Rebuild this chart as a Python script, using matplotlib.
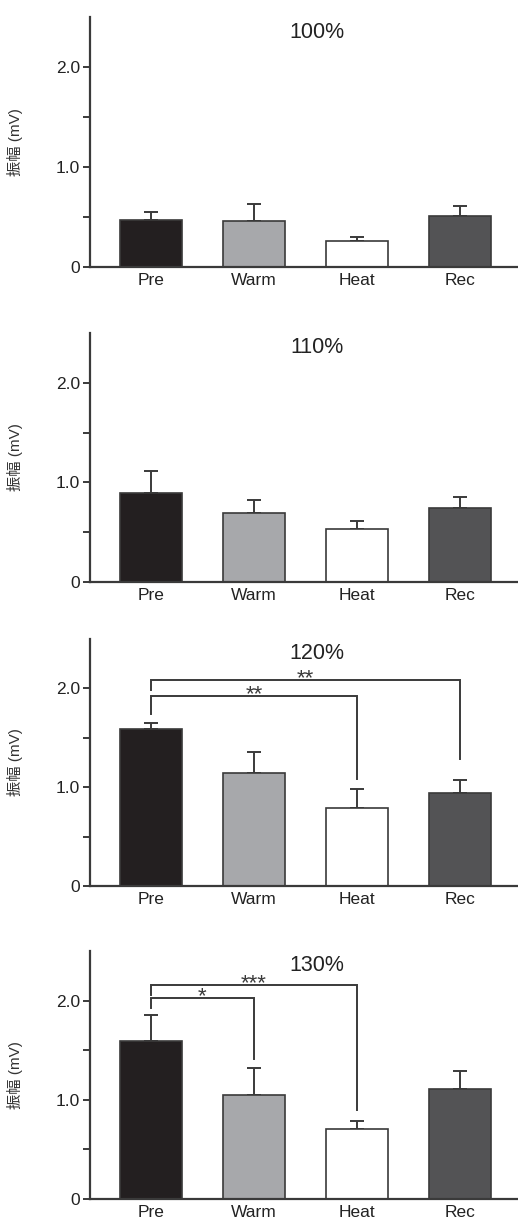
#!/usr/bin/env python3
"""Amplitude bar panels (100-130 %) with significance brackets."""

import matplotlib

matplotlib.use("Agg")
import matplotlib.pyplot as plt  # noqa: E402
from matplotlib.ticker import FixedLocator  # noqa: E402

plt.rcParams["font.family"] = ["Liberation Sans", "Noto Sans CJK JP", "DejaVu Sans"]

conditions = ["Pre", "Warm", "Heat", "Rec"]
panel_titles = ["100%", "110%", "120%", "130%"]

means_100 = [0.47, 0.46, 0.26, 0.51]
errs_100 = [0.08, 0.17, 0.04, 0.10]
means_110 = [0.89, 0.69, 0.53, 0.74]
errs_110 = [0.22, 0.13, 0.08, 0.11]
means_120 = [1.59, 1.14, 0.79, 0.94]
errs_120 = [0.06, 0.22, 0.19, 0.13]
means_130 = [1.59, 1.05, 0.71, 1.11]
errs_130 = [0.26, 0.27, 0.08, 0.18]

# brackets: (left bar, right bar, line height, left drop end, right drop end, label)
brackets_120 = [(0, 2, 1.92, 1.74, 1.08, "**"), (0, 3, 2.08, 1.98, 1.29, "**")]
brackets_130 = [(0, 1, 2.03, 1.93, 1.41, "*"), (0, 2, 2.16, 2.06, 0.90, "***")]

bar_colors = ["#231f20", "#a7a8ab", "#ffffff", "#535355"]
ink = "#3a3a3a"

means = [means_100, means_110, means_120, means_130]
errs = [errs_100, errs_110, errs_120, errs_130]
brackets = [[], [], brackets_120, brackets_130]

W, H = 518, 1221
fig = plt.figure(figsize=(W / 100, H / 100), dpi=100)
# (top, bottom) pixel rows of each axes
rows = [(17, 267), (333, 582), (639, 886), (951, 1199)]

for k, (top, bot) in enumerate(rows):
    ax = fig.add_axes([90 / W, 1 - bot / H, 428 / W, (bot - top) / H])
    x = list(range(len(conditions)))
    ax.bar(x, means[k], width=0.6, color=bar_colors, edgecolor=ink,
           linewidth=1.2, zorder=2)
    ax.errorbar(x, means[k], yerr=[[0] * 4, errs[k]], fmt="none",
                ecolor=ink, elinewidth=1.4, capsize=5, capthick=1.4, zorder=1)

    for i, j, h, dl, dr, lab in brackets[k]:
        ax.plot([i, i, j, j], [dl, h, h, dr], color=ink, lw=1.4,
                solid_joinstyle="miter", zorder=3)
        ax.annotate(lab, ((i + j) / 2, h), xytext=(0, -3),
                    textcoords="offset points", ha="center", va="baseline",
                    fontsize=16, color=ink)

    ax.set_xlim(-0.59, 3.56)
    ax.set_ylim(0, 2.5)
    ax.set_xticks(x)
    ax.set_xticklabels(conditions, fontsize=12.5)
    ax.tick_params(axis="x", length=0, pad=4, colors="#222222")
    ax.yaxis.set_major_locator(FixedLocator([0, 1, 2]))
    ax.set_yticklabels(["0", "1.0", "2.0"], fontsize=12.5, color="#222222")
    ax.yaxis.set_minor_locator(FixedLocator([0.5, 1.5]))
    ax.tick_params(axis="y", which="both", length=5, width=1.4,
                   color=ink, pad=2)
    for side in ("top", "right"):
        ax.spines[side].set_visible(False)
    for side in ("left", "bottom"):
        ax.spines[side].set_color(ink)
        ax.spines[side].set_linewidth(1.6)
    ax.set_ylabel("振幅 (mV)", fontsize=11, color="#333333")
    ax.yaxis.set_label_coords(-0.157, 0.5)
    ax.text(0.53, 0.94, panel_titles[k], transform=ax.transAxes,
            ha="center", va="center", fontsize=15.5, color="#222222")

fig.savefig("out.png", dpi=100)
